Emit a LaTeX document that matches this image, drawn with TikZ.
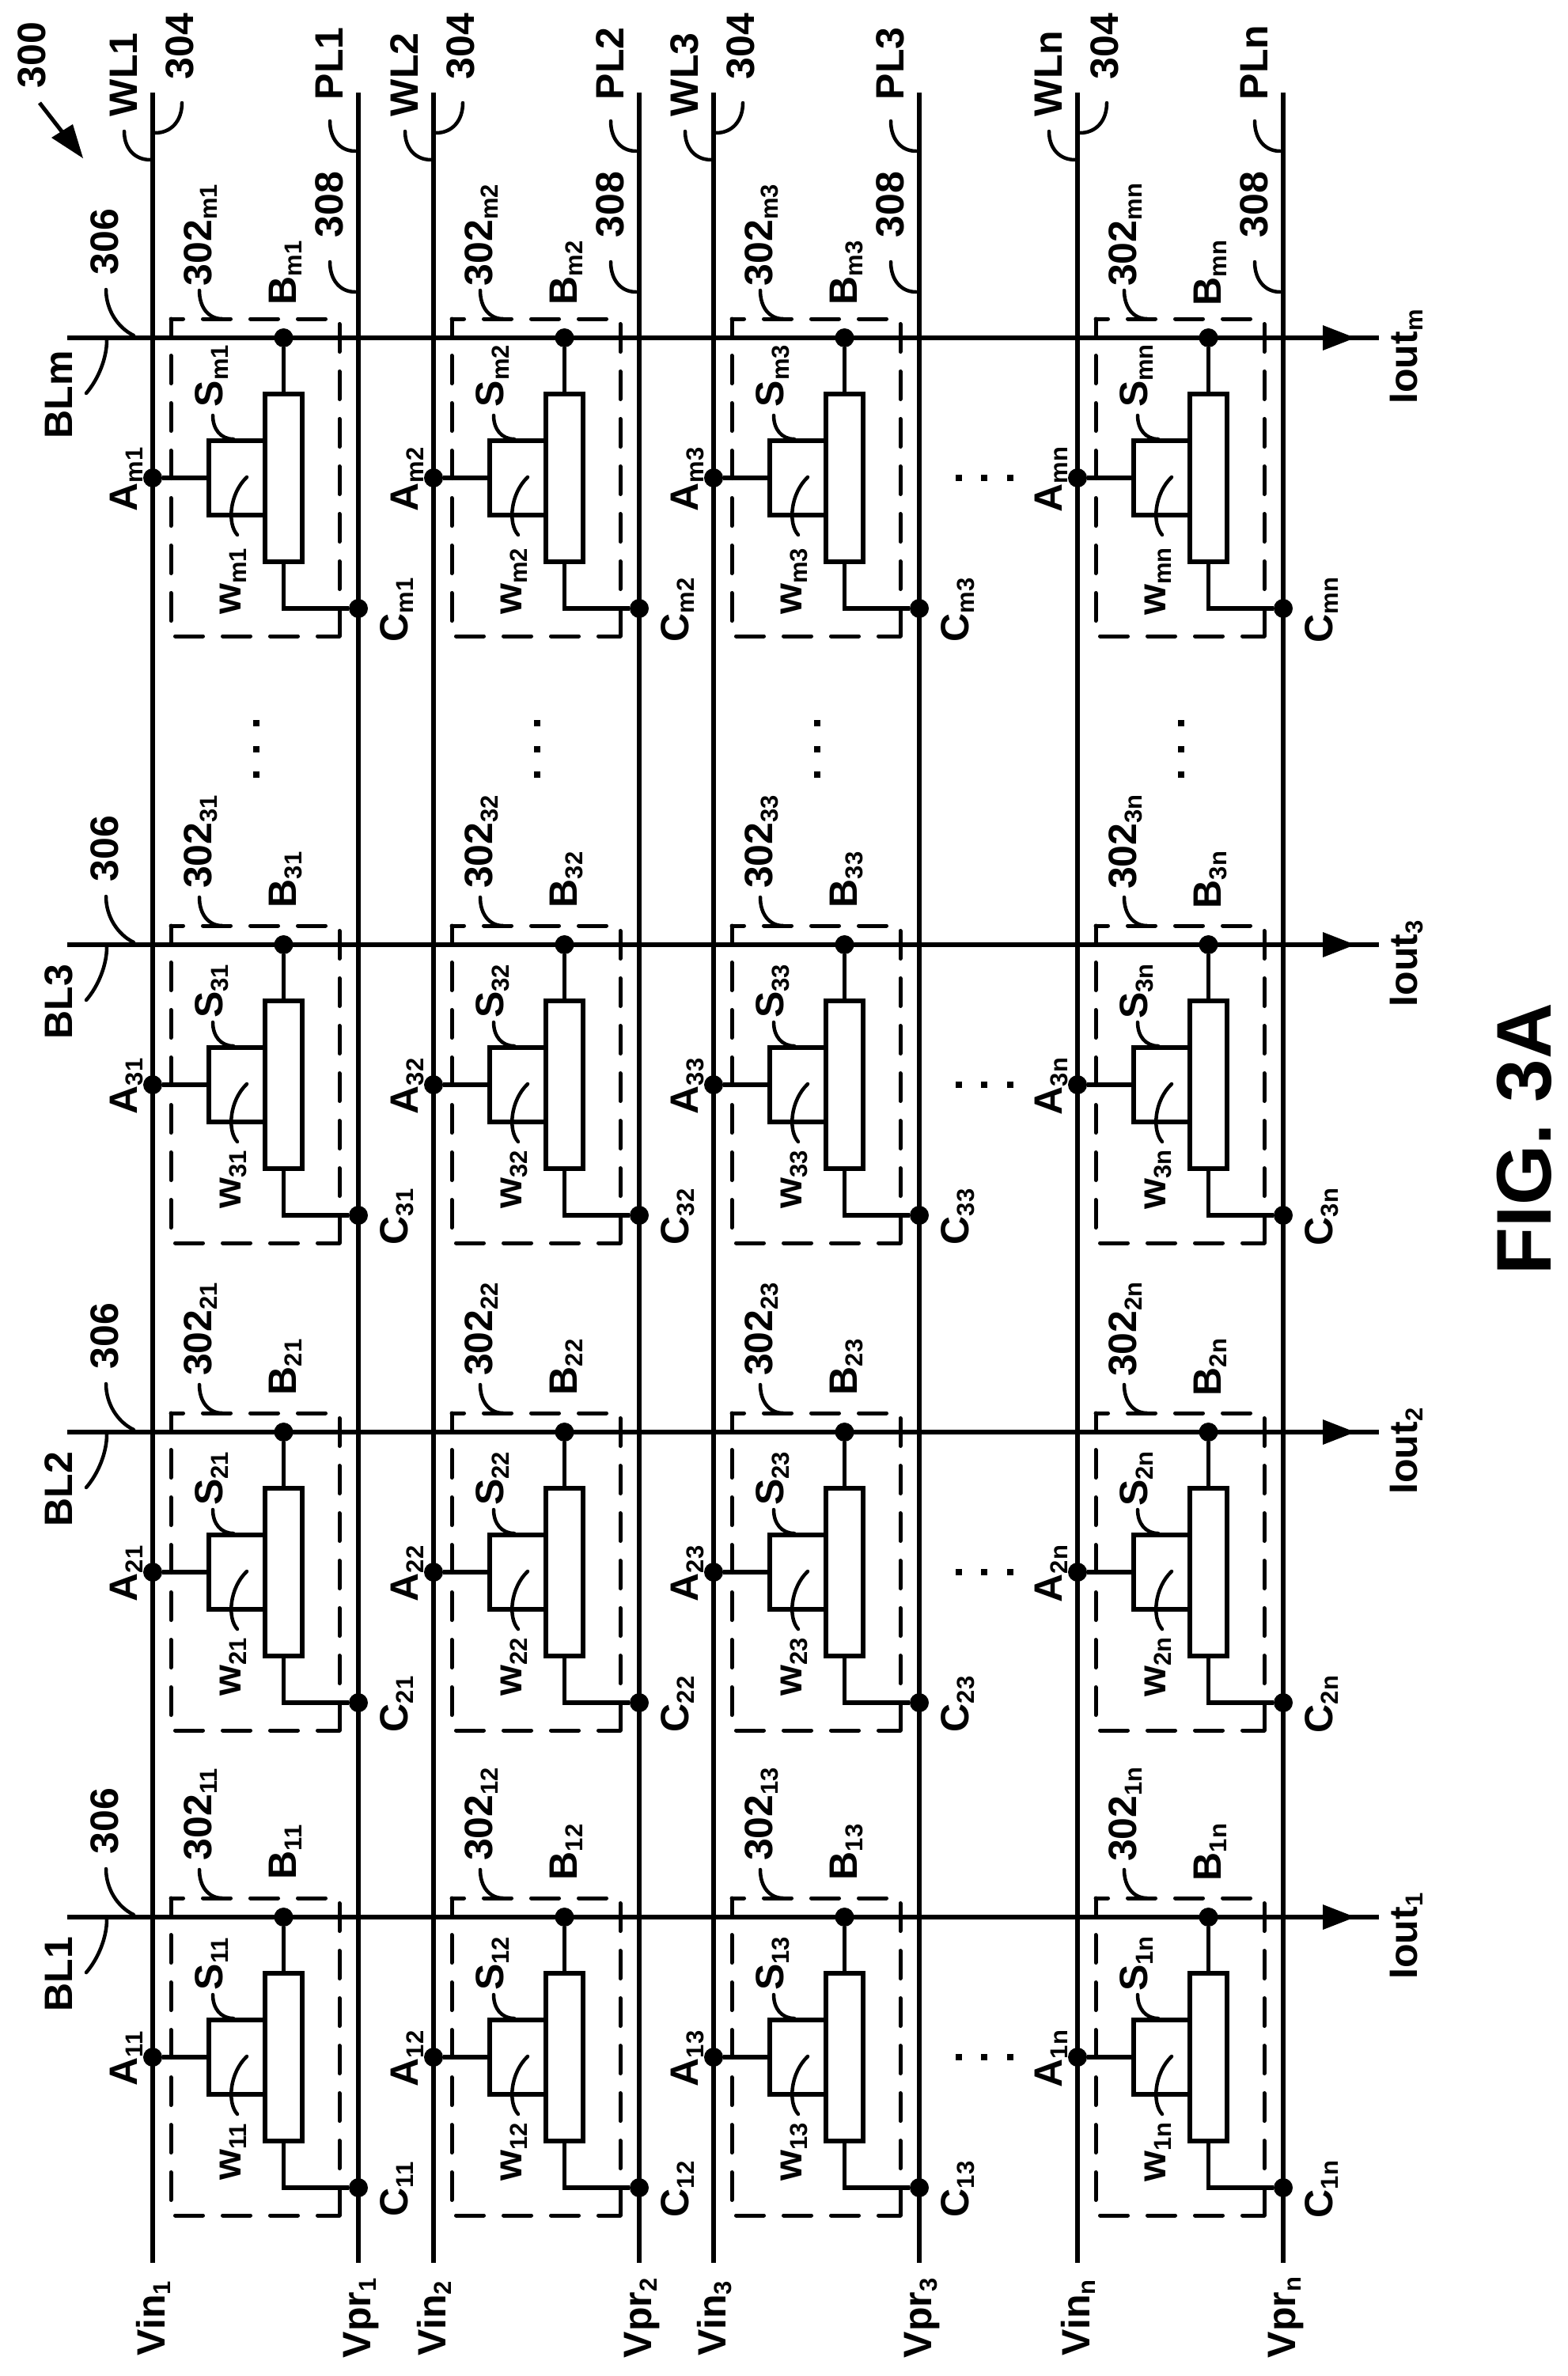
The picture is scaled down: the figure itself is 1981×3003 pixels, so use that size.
\documentclass[tikz,border=0pt]{standalone}
\usepackage{fontspec}
\usetikzlibrary{calc}
\setmainfont{Liberation Sans}
\newcommand\lab[2]{#1\raisebox{-7pt}{\fontsize{31}{31}\selectfont\bfseries #2}}
\newcommand\leadline[6]{\draw[lead] (#1,#2) .. controls ($(#1,#2)!0.6!(#3,#4)$) and ($(#5,#6)!0.6!(#3,#4)$) .. (#5,#6);}
\tikzset{
  lbl/.style={inner sep=0pt,outer sep=0pt,rotate=90,anchor=base west,font=\fontsize{50}{60}\selectfont\bfseries},
  clbl/.style={lbl,anchor=base},
  wire/.style={line width=5.5pt,line cap=butt},
  lead/.style={line width=4.5pt,line cap=round},
  cellbox/.style={line width=5pt,line cap=round,dash pattern=on 35pt off 25pt},
  part/.style={draw,line width=5.5pt,inner sep=0pt,outer sep=0pt},
  dot/.style={circle,fill=black,inner sep=0pt,outer sep=0pt,minimum size=24pt},
}
\begin{document}
\begin{tikzpicture}[x=1pt,y=-1pt]
\useasboundingbox (0,0) rectangle (1981,3003);
% row (vertical line pairs)
\foreach \r/\X/\rn in {1/193/1,2/548/2,3/902/3,4/1362/n}{
  \coordinate (WLt\r) at (\X,117);
  \coordinate (WLb\r) at (\X,2860);
  \coordinate (PLt\r) at (\X+260,117);
  \coordinate (PLb\r) at (\X+260,2860);
  \draw[wire] (WLt\r) -- (WLb\r);
  \draw[wire] (PLt\r) -- (PLb\r);
  \node[lbl] (WLl\r) at (\X-20,147) {WL\rn};
  \node[lbl] (nn304\r) at (\X+51,100) {304};
  \node[lbl] (PLl\r) at (\X+240,126) {PL\rn};
  \node[lbl] (nn308\r) at (\X+240,300) {308};
  \node[lbl] (Vin\r) at (\X+15,2977) {\lab{Vin}{\rn}};
  \node[lbl] (Vpr\r) at (\X+275,2980) {\lab{Vpr}{\rn}};
  \leadline{\X-36}{166}{\X-36}{202}{\X-3}{202}
  \leadline{\X+37}{130}{\X+37}{168}{\X+3}{168}
  \leadline{\X+224}{153}{\X+224}{191}{\X+256}{191}
  \leadline{\X+224}{331}{\X+224}{369}{\X+256}{369}
}
% columns (horizontal bit lines)
\foreach \c/\Y/\cn/\Sc/\Wc in {1/2423/1/59/297,2/1810/2/59/297,3/1194/3/59/297,4/427/m/48/308}{
  \coordinate (BLs\c) at (85,\Y);
  \coordinate (BLe\c) at (1743,\Y);
  \draw[wire] (BLs\c) -- (BLe\c);
  \fill (1672,\Y-16) -- (1713,\Y) -- (1672,\Y+16) -- cycle;
  \node[clbl] (Iout\c) at (1791,\Y+24) {\lab{Iout}{\cn}};
  \node[lbl] (nn306\c) at (149,\Y-80) {306};
  \node[clbl] (BLl\c) at (91,\Y+72) {BL\cn};
  \leadline{134}{\Y-61}{134}{\Y-20}{169}{\Y-3}
  \leadline{135}{\Y+3}{135}{\Y+40}{109}{\Y+70}
  \foreach \r/\X/\rn in {1/193/1,2/548/2,3/902/3,4/1362/n}{
    \draw[cellbox] (\X+28.5,\Y+377) -- (\X+236,\Y+377);
    \draw[cellbox,dash phase=0.5pt] (\X+236,\Y+377) -- (\X+236,\Y-18);
    \draw[cellbox] (\X+218.5,\Y-24) -- (\X+23,\Y-24);
    \draw[cellbox,dash phase=13.5pt] (\X+23,\Y-24) -- (\X+23,\Y+358);
    \node[part,minimum width=47pt,minimum height=212pt] (R\r\c) at (\X+165.5,\Y+177) {};
    \node[part,minimum width=71pt,minimum height=94pt] (G\r\c) at (\X+106.5,\Y+177) {};
    \node[dot] (A\r\c) at (\X,\Y+177) {};
    \node[dot] (B\r\c) at (\X+165.5,\Y) {};
    \node[dot] (C\r\c) at (\X+260,\Y+342) {};
    \draw[wire] (A\r\c) -- (G\r\c.west);
    \draw[wire] (B\r\c) -- (R\r\c.north);
    \draw[wire] (R\r\c.south) |- (C\r\c);
    \node[clbl] (Al\r\c) at (\X-20,\Y+179) {\lab{A}{\cn\rn}};
    \node[clbl] (Bl\r\c) at (\X+181,\Y-82) {\lab{B}{\cn\rn}};
    \node[clbl] (Cl\r\c) at (\X+322,\Y+344) {\lab{C}{\cn\rn}};
    \node[clbl] (Sl\r\c) at (\X+88,\Y+\Sc) {\lab{S}{\cn\rn}};
    \node[clbl] (Wl\r\c) at (\X+111,\Y+\Wc) {\lab{w}{\cn\rn}};
    \node[clbl] (Nl\r\c) at (\X+74,\Y-130) {\lab{302}{\cn\rn}};
    \leadline{\X+59}{\Y-60}{\X+59}{\Y-24}{\X+88}{\Y-24}
    \leadline{\X+76}{\Y+98}{\X+76}{\Y+128}{\X+102}{\Y+128}
    \draw[lead] (\X+119,\Y+176) .. controls (\X+97,\Y+197) and (\X+94,\Y+235) .. (\X+107,\Y+249);
  }
  \foreach \d in {1212,1244,1277}{
    \fill (\d-4,\Y+173) rectangle ++(8,8);
  }
}
% omitted-column marks
\foreach \X in {324,679,1033,1493}{
  \foreach \d in {914,947,979}{
    \fill (\X-4,\d-4) rectangle ++(8,8);
  }
}
% figure reference and title
\node[lbl] (fig300) at (57,111) {300};
\draw[line width=5pt] (50,130) -- (85,175);
\fill (105,200) -- (65,174) -- (92,157) -- cycle;
\node[lbl,font=\fontsize{98}{110}\selectfont\bfseries] (title) at (1960,1611) {FIG. 3A};
\end{tikzpicture}
\end{document}
